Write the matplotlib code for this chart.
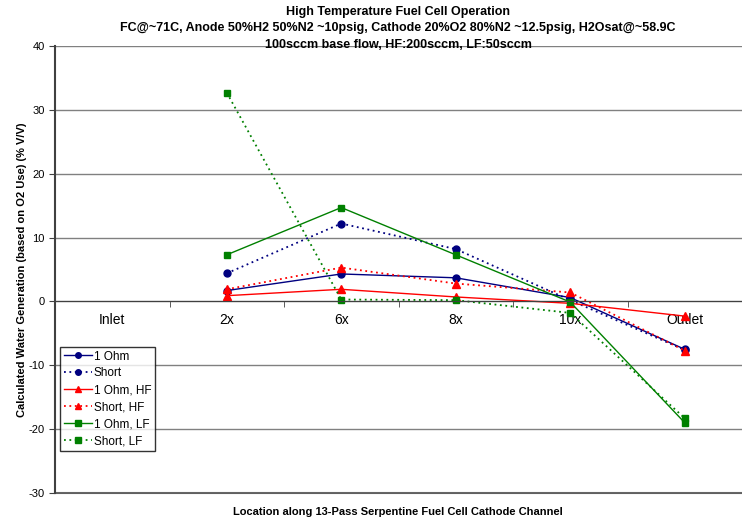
import numpy as np
import matplotlib.pyplot as plt
from matplotlib.ticker import FixedLocator

plt.rcParams['font.family'] = ['Liberation Sans', 'DejaVu Sans']
plt.rcParams['axes.unicode_minus'] = False

locations = ['Inlet', '2x', '6x', '8x', '10x', 'Outlet']

one_ohm = [np.nan, 1.7, 4.3, 3.7, 0.6, -7.5]
short = [np.nan, 4.4, 12.2, 8.2, 0.2, -7.6]
one_ohm_hf = [np.nan, 0.9, 1.9, 0.7, -0.3, -2.3]
short_hf = [np.nan, 1.9, 5.3, 2.8, 1.4, -7.7]
one_ohm_lf = [np.nan, 7.3, 14.7, 7.3, -0.1, -19.0]
short_lf = [np.nan, 32.7, 0.3, 0.2, -1.8, -18.3]

x = np.arange(len(locations))

fig = plt.figure(figsize=(7.42, 5.21), dpi=100)
ax = fig.add_axes([55 / 742, 1 - 493 / 521, 687 / 742, 447 / 521])

ax.plot(x, one_ohm, color='#000080', lw=1, ls='-', marker='o', ms=5, label='1 Ohm')
ax.plot(x, short, color='#000080', lw=1.3, ls=(0, (1, 2)), marker='o', ms=5, label='Short')
ax.plot(x, one_ohm_hf, color='#FF0000', lw=1, ls='-', marker='^', ms=6, label='1 Ohm, HF')
ax.plot(x, short_hf, color='#FF0000', lw=1.3, ls=(0, (1, 2)), marker='^', ms=6, label='Short, HF')
ax.plot(x, one_ohm_lf, color='#008000', lw=1, ls='-', marker='s', ms=5, label='1 Ohm, LF')
ax.plot(x, short_lf, color='#008000', lw=1.3, ls=(0, (1, 2)), marker='s', ms=5, label='Short, LF')

ax.set_xlim(-0.5, 5.5)
ax.set_ylim(-30, 40)
ax.set_yticks(np.arange(-30, 41, 10))
ax.yaxis.grid(True, color='#808080', lw=1)
ax.axhline(-30, color='#606060', lw=1.5, clip_on=False, zorder=0)
ax.set_axisbelow(True)

ax.set_xticks(x)
ax.set_xticklabels(locations, fontsize=8)
ax.xaxis.set_minor_locator(FixedLocator(x[:-1] + 0.5))
ax.tick_params(axis='x', which='major', length=0, pad=8)
ax.tick_params(axis='x', which='minor', length=4, direction='out', color='#404040')
ax.tick_params(axis='y', labelsize=8, length=4, color='#404040')

ax.spines['top'].set_visible(False)
ax.spines['right'].set_visible(False)
ax.spines['bottom'].set_position(('data', 0))
ax.spines['bottom'].set_color('#404040')
ax.spines['left'].set_color('#404040')
ax.spines['left'].set_linewidth(1.5)

ax.set_ylabel('Calculated Water Generation (based on O2 Use) (% V/V)', fontsize=8, fontweight='bold')
ax.yaxis.set_label_coords(-0.041, 0.5)
fig.text(398 / 742, 1 - 512 / 521, 'Location along 13-Pass Serpentine Fuel Cell Cathode Channel',
         ha='center', va='center', fontsize=8, fontweight='bold')

fig.text(398 / 742, 1 - 12 / 521, 'High Temperature Fuel Cell Operation',
         ha='center', va='center', fontsize=9, fontweight='bold')
fig.text(398 / 742, 1 - 28 / 521,
         'FC@~71C, Anode 50%H2 50%N2 ~10psig, Cathode 20%O2 80%N2 ~12.5psig, H2Osat@~58.9C',
         ha='center', va='center', fontsize=9, fontweight='bold')
fig.text(398 / 742, 1 - 45 / 521, '100sccm base flow, HF:200sccm, LF:50sccm',
         ha='center', va='center', fontsize=9, fontweight='bold')

leg = ax.legend(loc='upper left', bbox_to_anchor=(60 / 742, 1 - 347 / 521),
                bbox_transform=fig.transFigure, fontsize=8.5, frameon=True, fancybox=False,
                handlelength=2.4, borderpad=0.3, labelspacing=0.42, handletextpad=0.15,
                borderaxespad=0, markerscale=0.8)
leg.get_frame().set_edgecolor('black')
leg.get_frame().set_linewidth(1)

fig.savefig('out.png', dpi=100)
